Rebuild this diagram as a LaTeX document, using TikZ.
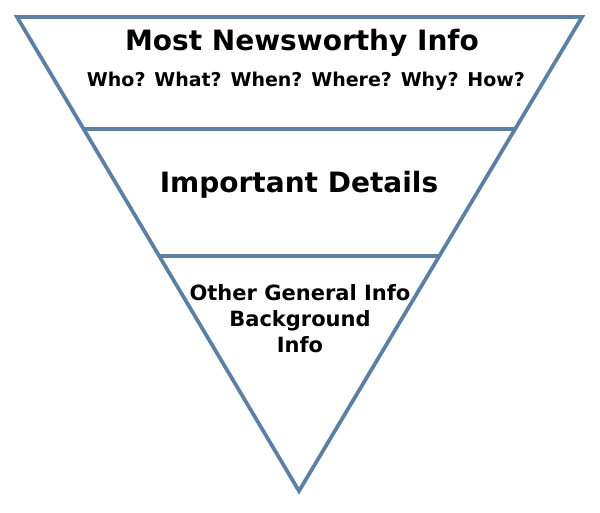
\documentclass[tikz,border=0pt]{standalone}
\usepackage{fontspec}
\setmainfont{DejaVu Sans}
\usepackage{tikz}
\usetikzlibrary{calc}
\definecolor{funnelblue}{HTML}{5A80A3}

\begin{document}
\begin{tikzpicture}[
                x=0.75pt, y=-0.75pt, % pixel units, y downwards
                edge/.style={draw=funnelblue, line width=2.8pt, line join=miter}, % Triangle lines
                bigtext/.style={font=\fontsize{21}{25}\selectfont\bfseries, inner sep=0pt}, % Level titles
                smalltext/.style={font=\fontsize{14.25}{17}\selectfont\bfseries, inner sep=0pt},
                basetext/.style={font=\fontsize{15.75}{19.5}\selectfont\bfseries, inner sep=0pt, align=center}
                ]
                \useasboundingbox (0,0) rectangle (600,512);
                \coordinate (topleft) at (17,17);
                \coordinate (topright) at (582,17);
                \coordinate (bottom) at (299,491);
                \draw[edge] (topleft) -- (topright) -- (bottom) -- cycle;
                % dividers
                \coordinate (divAleft) at ($(topleft)!0.2363!(bottom)$);
                \coordinate (divAright) at ($(topright)!0.2363!(bottom)$);
                \coordinate (divBleft) at ($(topleft)!0.504!(bottom)$);
                \coordinate (divBright) at ($(topright)!0.504!(bottom)$);
                \draw[edge] (divAleft) -- (divAright);
                \draw[edge] (divBleft) -- (divBright);
                % texts
                \node[bigtext] (newsworthy) at (302,43) {Most Newsworthy Info};
                \node[smalltext] (questions) at (306,81) {Who? What? When? Where? Why? How?};
                \node[bigtext] (details) at (299,185) {Important Details};
                \node[basetext] (general) at (300,319) {Other General Info\\Background\\Info};
            \end{tikzpicture}
\end{document}
